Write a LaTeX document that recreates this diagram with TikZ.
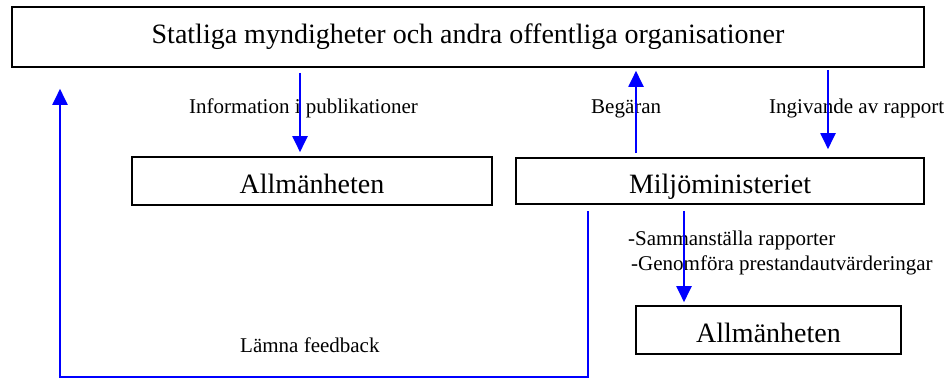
\documentclass[tikz,border=0pt]{standalone}
\usepackage{fontspec}
\setmainfont{Liberation Serif}
\usetikzlibrary{arrows.meta}
\definecolor{arrblue}{RGB}{0,0,255}
\tikzset{
  box/.style={draw=black, line width=1.6pt, rectangle, inner sep=0pt, fill=white},
  bigtext/.style={font=\fontsize{28}{32}\selectfont},
  lowtext/.style={text height=24pt, text depth=0pt},
  lbl/.style={font=\fontsize{21}{25}\selectfont, anchor=base west, inner sep=0pt},
  arr/.style={draw=arrblue, line width=2pt, -{Triangle[width=15pt,length=16pt]}},
  fb/.style={draw=arrblue, line width=2pt}
}
\begin{document}
\begin{tikzpicture}[x=1pt,y=-1pt]
\useasboundingbox (0,0) rectangle (951,378);
% boxes
\node[box, bigtext, minimum width=912pt, minimum height=60pt] (top) at (468,37) {Statliga myndigheter och andra offentliga organisationer};
\node[box, bigtext, lowtext, minimum width=360pt, minimum height=48pt] (pub1) at (312,181) {Allmänheten};
\node[box, bigtext, lowtext, minimum width=408pt, minimum height=46pt] (mil) at (720,181) {Miljöministeriet};
\node[box, bigtext, lowtext, minimum width=265pt, minimum height=48pt] (pub2) at (768.5,330) {Allmänheten};
% labels
\node[lbl] (l1) at (189,113) {Information i publikationer};
\node[lbl] (l2) at (591,113) {Begäran};
\node[lbl] (l3) at (769,113) {Ingivande av rapport};
\node[lbl] (l4) at (628,245) {-Sammanställa rapporter};
\node[lbl] (l5) at (631,270) {-Genomföra prestandautvärderingar};
\node[lbl] (l6) at (240,352) {Lämna feedback};
% x positions of connectors
\coordinate (xa) at (300,0);
\coordinate (xb) at (636,0);
\coordinate (xc) at (828,0);
\coordinate (xd) at (684,0);
\coordinate (xl) at (60,0);
\coordinate (fbstart) at (588,211);
\coordinate (fbcorner1) at (588,377);
\coordinate (fbcorner2) at (60,377);
% connectors
\draw[arr, shorten <=5pt, shorten >=4pt] (top.south -| xa) -- (pub1.north -| xa);
\draw[arr, shorten <=4pt, shorten >=3pt] (mil.north -| xb) -- (top.south -| xb);
\draw[arr, shorten <=2pt, shorten >=8pt] (top.south -| xc) -- (mil.north -| xc);
\draw[arr, shorten <=6pt, shorten >=3pt] (mil.south -| xd) -- (pub2.north -| xd);
\draw[fb, -{Triangle[width=15pt,length=16pt]}, shorten >=21pt] (fbstart) -- (fbcorner1) -- (fbcorner2) -- (top.south -| xl);
\end{tikzpicture}
\end{document}
